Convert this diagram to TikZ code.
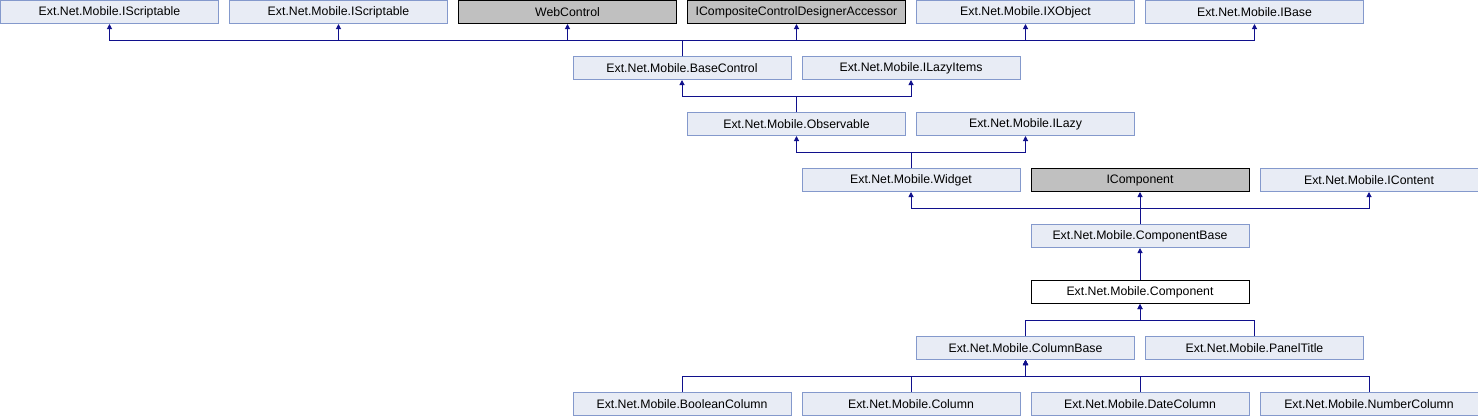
\documentclass[tikz,border=0pt]{standalone}
\usepackage{fontspec}
\setmainfont{Liberation Sans}
\usetikzlibrary{arrows.meta}
\definecolor{boxfill}{HTML}{E8ECF5}
\definecolor{boxline}{HTML}{8499CC}
\definecolor{grayfill}{HTML}{C0C0C0}
\definecolor{linkcol}{HTML}{10108C}
\tikzset{
  cls/.style={draw=boxline, fill=boxfill, line width=1pt, minimum width=218pt, minimum height=23pt, inner sep=0pt, font=\fontsize{12.3}{14}\selectfont},
  ext/.style={cls, draw=black, fill=grayfill},
  cur/.style={cls, draw=black, fill=white},
  inh/.style={draw=linkcol, line width=1pt, -{Triangle[length=5pt,width=5pt]}},
}
\begin{document}
\begin{tikzpicture}[x=1pt,y=-1pt]
\useasboundingbox (0,0) rectangle (1478,416);
% row 0
\node[cls] (is1) at (109.5,12) {Ext.Net.Mobile.IScriptable};
\node[cls] (is2) at (338.5,12) {Ext.Net.Mobile.IScriptable};
\node[ext] (wc) at (567.5,12) {WebControl};
\node[ext] (iccd) at (796.5,12) {ICompositeControlDesignerAccessor};
\node[cls] (ixo) at (1025.5,12) {Ext.Net.Mobile.IXObject};
\node[cls] (ib) at (1254.5,12) {Ext.Net.Mobile.IBase};
% row 1
\node[cls] (bc) at (682,68) {Ext.Net.Mobile.BaseControl};
\node[cls] (ili) at (911,68) {Ext.Net.Mobile.ILazyItems};
% row 2
\node[cls] (obs) at (796.5,124) {Ext.Net.Mobile.Observable};
\node[cls] (il) at (1025.5,124) {Ext.Net.Mobile.ILazy};
% row 3
\node[cls] (wid) at (911,180) {Ext.Net.Mobile.Widget};
\node[ext] (icomp) at (1140,180) {IComponent};
\node[cls] (icont) at (1369,180) {Ext.Net.Mobile.IContent};
% row 4
\node[cls] (cb) at (1140,236) {Ext.Net.Mobile.ComponentBase};
% row 5
\node[cur] (comp) at (1140,292) {Ext.Net.Mobile.Component};
% row 6
\node[cls] (colb) at (1025.5,348) {Ext.Net.Mobile.ColumnBase};
\node[cls] (pt) at (1254.5,348) {Ext.Net.Mobile.PanelTitle};
% row 7
\node[cls] (boolc) at (682,404) {Ext.Net.Mobile.BooleanColumn};
\node[cls] (col) at (911,404) {Ext.Net.Mobile.Column};
\node[cls] (datec) at (1140,404) {Ext.Net.Mobile.DateColumn};
\node[cls] (numc) at (1369,404) {Ext.Net.Mobile.NumberColumn};
% connectors
\foreach \p in {is1,is2,wc,iccd,ixo,ib} \draw[inh] (bc.north) -- ++(0,-16) -| (\p.south);
\foreach \p in {bc,ili} \draw[inh] (obs.north) -- ++(0,-16) -| (\p.south);
\foreach \p in {obs,il} \draw[inh] (wid.north) -- ++(0,-16) -| (\p.south);
\foreach \p in {wid,icomp,icont} \draw[inh] (cb.north) -- ++(0,-16) -| (\p.south);
\draw[inh] (comp.north) -- (cb.south);
\foreach \c in {colb,pt} \draw[inh] (\c.north) -- ++(0,-16) -| (comp.south);
\foreach \c in {boolc,col,datec,numc} \draw[inh] (\c.north) -- ++(0,-16) -| (colb.south);
\end{tikzpicture}
\end{document}
